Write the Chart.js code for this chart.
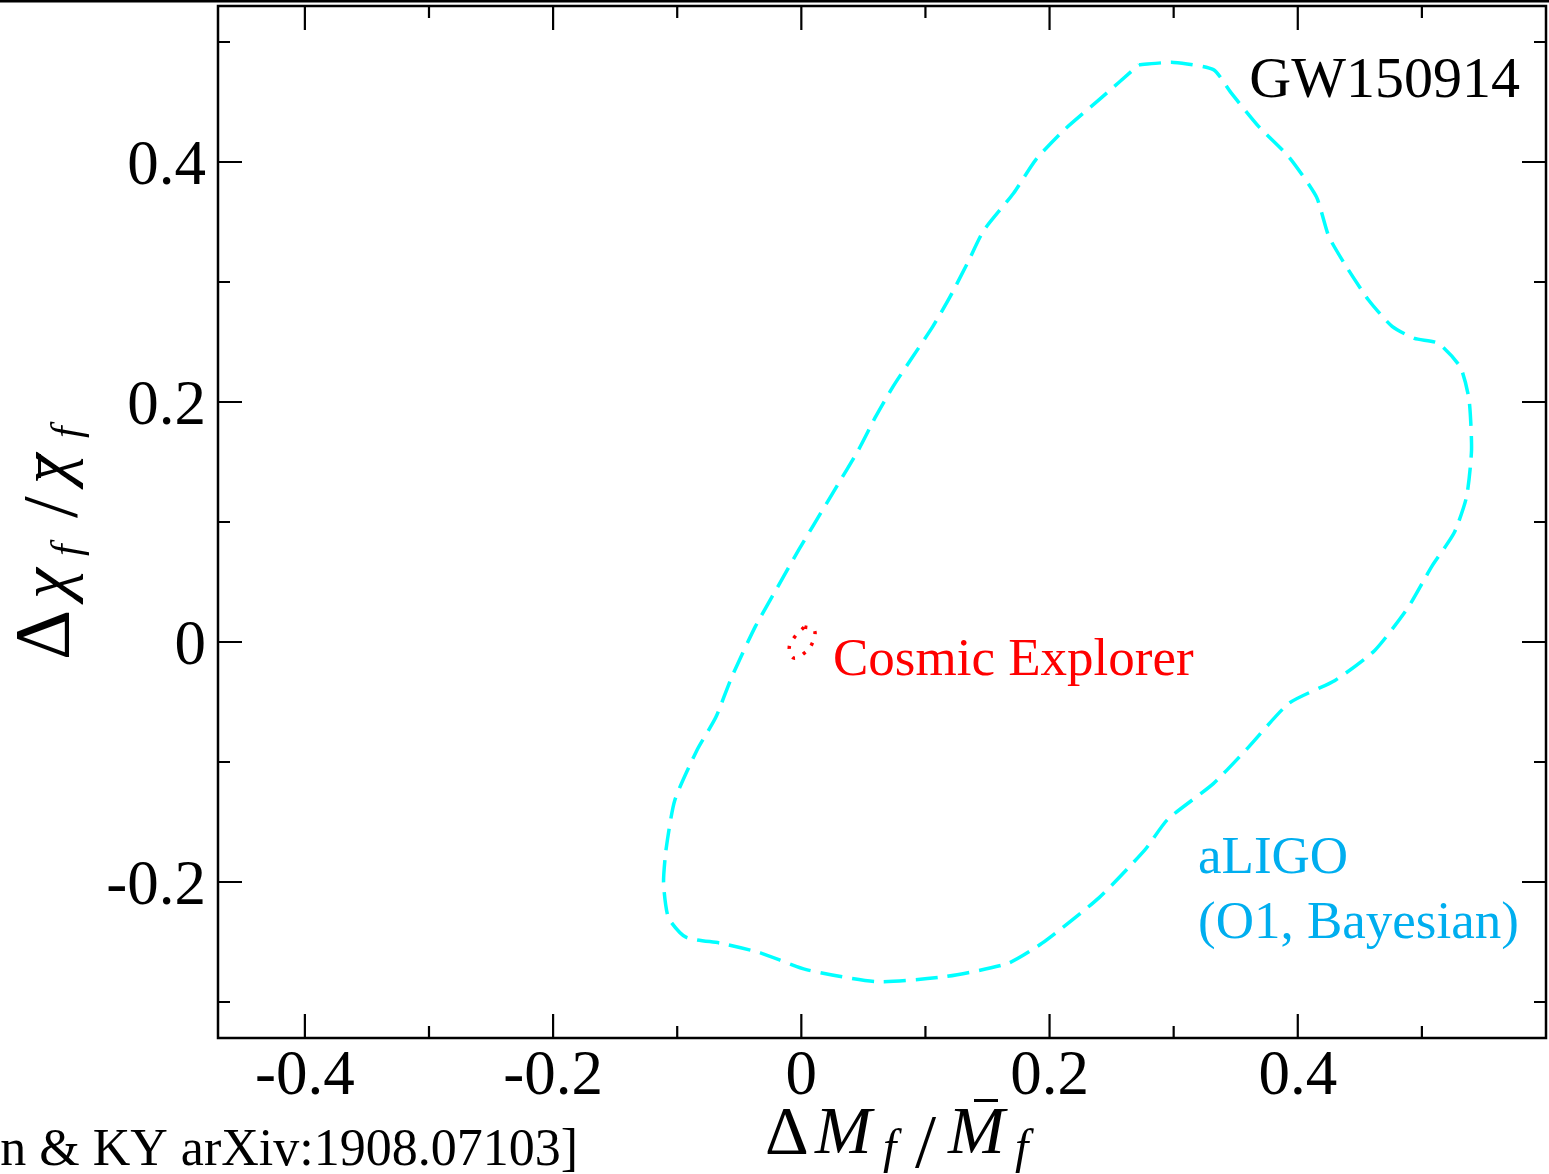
<!DOCTYPE html>
<html>
<head>
<meta charset="utf-8">
<script src="https://cdn.jsdelivr.net/npm/chart.js@4.4.0/dist/chart.umd.min.js"></script>
<style>
  html, body { margin: 0; padding: 0; background: #fff; }
  #wrap { width: 1549px; height: 1174px; }
</style>
</head>
<body>
<div id="wrap"><canvas id="contourChart" width="1549" height="1174"></canvas></div>
<script>
const X_MIN = -0.47, X_MAX = 0.6;
const Y_MIN = -0.33, Y_MAX = 0.53;

const xMajorTicks = [-0.4, -0.2, 0, 0.2, 0.4];
const xMinorTicks = [-0.3, -0.1, 0.1, 0.3, 0.5];
const xTickLabels = ['-0.4', '-0.2', '0', '0.2', '0.4'];
const yMajorTicks = [-0.2, 0, 0.2, 0.4];
const yMinorTicks = [-0.3, -0.1, 0.1, 0.3, 0.5];
const yTickLabels = ['-0.2', '0', '0.2', '0.4'];

// aLIGO (O1, Bayesian) credible region, traced clockwise from the top
const aligoX = [0.272, 0.300, 0.332, 0.346, 0.369, 0.393, 0.415, 0.425, 0.439, 0.457,
  0.476, 0.494, 0.513, 0.531, 0.538, 0.540, 0.536, 0.526, 0.508, 0.489,
  0.462, 0.430, 0.393, 0.360, 0.332, 0.295, 0.277, 0.240, 0.194, 0.166,
  0.115, 0.060, 0.004, -0.033, -0.065, -0.093, -0.107, -0.111, -0.109, -0.102,
  -0.084, -0.069, -0.056, -0.037, -0.019, -0.002, 0.009, 0.027, 0.046, 0.060,
  0.074, 0.088, 0.106, 0.120, 0.134, 0.147, 0.171, 0.189, 0.212, 0.240, 0.272];
const aligoY = [0.481, 0.483, 0.477, 0.458, 0.429, 0.404, 0.371, 0.338, 0.313, 0.285,
  0.263, 0.253, 0.249, 0.229, 0.202, 0.160, 0.121, 0.091, 0.063, 0.029,
  -0.007, -0.032, -0.051, -0.088, -0.118, -0.148, -0.173, -0.213, -0.251, -0.268,
  -0.279, -0.283, -0.273, -0.259, -0.251, -0.246, -0.230, -0.201, -0.173, -0.132,
  -0.090, -0.063, -0.029, 0.013, 0.046, 0.077, 0.096, 0.127, 0.160, 0.188,
  0.213, 0.235, 0.263, 0.288, 0.316, 0.343, 0.374, 0.402, 0.427, 0.452, 0.481];

// Cosmic Explorer region (tiny ellipse around the origin)
const ceX = [0.0024, 0.0105, 0.0089, 0.0024, -0.0064, -0.0097, -0.0048, 0.0024];
const ceY = [0.0125, 0.0100, -0.0008, -0.0092, -0.0133, -0.0042, 0.0050, 0.0125];

const SERIF = "'Liberation Serif', 'Times New Roman', serif";

function toPoints(xs, ys) {
  return xs.map((v, i) => ({ x: v, y: ys[i] }));
}

// math-style title: each piece sits at its own offset along the baseline
function drawPieces(ctx, pieces, x0, y0) {
  for (const p of pieces) {
    ctx.font = p.font;
    const x = x0 + p.at;
    ctx.fillText(p.text, x, y0 + (p.dy || 0));
    if (p.bar) {
      ctx.fillRect(x + p.bar[0], y0 + p.bar[2], p.bar[1], 3);
    }
  }
}

const framePlugin = {
  id: 'framePlugin',
  afterDraw(chart) {
    const { ctx, chartArea: a, scales } = chart;
    const sx = scales.x, sy = scales.y;
    ctx.save();
    ctx.fillStyle = '#000';
    ctx.strokeStyle = '#000';

    // rule along the very top
    ctx.fillRect(0, 0, chart.width, 2.5);

    ctx.lineWidth = 2.5;
    ctx.strokeRect(a.left, a.top, a.right - a.left, a.bottom - a.top);

    // inward ticks on all four sides
    ctx.lineWidth = 2.2;
    ctx.beginPath();
    const tickX = (vals, len) => vals.forEach(v => {
      const px = sx.getPixelForValue(v);
      ctx.moveTo(px, a.bottom); ctx.lineTo(px, a.bottom - len);
      ctx.moveTo(px, a.top); ctx.lineTo(px, a.top + len);
    });
    const tickY = (vals, len) => vals.forEach(v => {
      const py = sy.getPixelForValue(v);
      ctx.moveTo(a.left, py); ctx.lineTo(a.left + len, py);
      ctx.moveTo(a.right, py); ctx.lineTo(a.right - len, py);
    });
    tickX(xMajorTicks, 24); tickX(xMinorTicks, 12);
    tickY(yMajorTicks, 24); tickY(yMinorTicks, 12);
    ctx.stroke();

    // tick labels
    ctx.font = '63px ' + SERIF;
    ctx.textAlign = 'center';
    ctx.textBaseline = 'alphabetic';
    xMajorTicks.forEach((v, i) => {
      ctx.fillText(xTickLabels[i], sx.getPixelForValue(v), a.bottom + 56);
    });
    ctx.textAlign = 'right';
    yMajorTicks.forEach((v, i) => {
      ctx.fillText(yTickLabels[i], a.left - 12, sy.getPixelForValue(v) + 22);
    });

    // axis titles
    ctx.textAlign = 'left';
    const big = '68px ' + SERIF, it = 'italic 68px ' + SERIF, sub = 'italic 48px ' + SERIF;
    drawPieces(ctx, [
      { text: '\u0394', font: big, at: 0 },
      { text: 'M', font: it, at: 50 },
      { text: 'f', font: sub, at: 118, dy: 10 },
      { text: '/', font: '76px ' + SERIF, at: 150, dy: 14 },
      { text: 'M', font: it, at: 183, bar: [26, 24, -54] },
      { text: 'f', font: sub, at: 250, dy: 10 }
    ], 765, 1153);

    ctx.save();
    ctx.translate(68, 660);
    ctx.rotate(-Math.PI / 2);
    const bigY = '78px ' + SERIF, itY = 'italic 70px ' + SERIF, subY = 'italic 42px ' + SERIF;
    drawPieces(ctx, [
      { text: '\u0394', font: bigY, at: 0 },
      { text: '\u03C7', font: itY, at: 61 },
      { text: 'f', font: subY, at: 104, dy: 12 },
      { text: '/', font: bigY, at: 142, dy: 8 },
      { text: '\u03C7', font: itY, at: 176, bar: [6, 24, -30] },
      { text: 'f', font: subY, at: 222, dy: 12 }
    ], 0, 0);
    ctx.restore();

    // annotations
    ctx.font = '58px ' + SERIF;
    ctx.textAlign = 'right';
    ctx.fillText('GW150914', 1520, 97);

    ctx.textAlign = 'left';
    ctx.font = '53px ' + SERIF;
    ctx.fillStyle = '#ff0000';
    ctx.fillText('Cosmic Explorer', 833, 675);
    ctx.fillStyle = '#00aeef';
    ctx.fillText('aLIGO', 1198, 873);
    ctx.fillText('(O1, Bayesian)', 1198, 938);

    // reference line, partly cut off at the left edge
    ctx.fillStyle = '#000';
    ctx.textAlign = 'right';
    ctx.font = '52px ' + SERIF;
    ctx.fillText('[Tan & KY arXiv:1908.07103]', 578, 1165);
    ctx.restore();
  }
};

new Chart(document.getElementById('contourChart'), {
  type: 'scatter',
  data: {
    datasets: [
      {
        label: 'aLIGO (O1, Bayesian)',
        data: toPoints(aligoX, aligoY),
        showLine: true,
        borderColor: '#00ffff',
        borderWidth: 3.5,
        borderDash: [22, 10],
        pointRadius: 0,
        tension: 0.2,
        fill: false
      },
      {
        label: 'Cosmic Explorer',
        data: toPoints(ceX, ceY),
        showLine: true,
        borderColor: '#ff0000',
        borderWidth: 3.5,
        borderDash: [3, 9],
        pointRadius: 0,
        tension: 0.4,
        fill: false
      }
    ]
  },
  options: {
    responsive: false,
    animation: false,
    devicePixelRatio: 1,
    layout: { padding: { left: 218, right: 3, top: 6, bottom: 136 } },
    plugins: { legend: { display: false }, tooltip: { enabled: false } },
    scales: {
      x: { type: 'linear', min: X_MIN, max: X_MAX, display: false },
      y: { type: 'linear', min: Y_MIN, max: Y_MAX, display: false }
    }
  },
  plugins: [framePlugin]
});
</script>
</body>
</html>
